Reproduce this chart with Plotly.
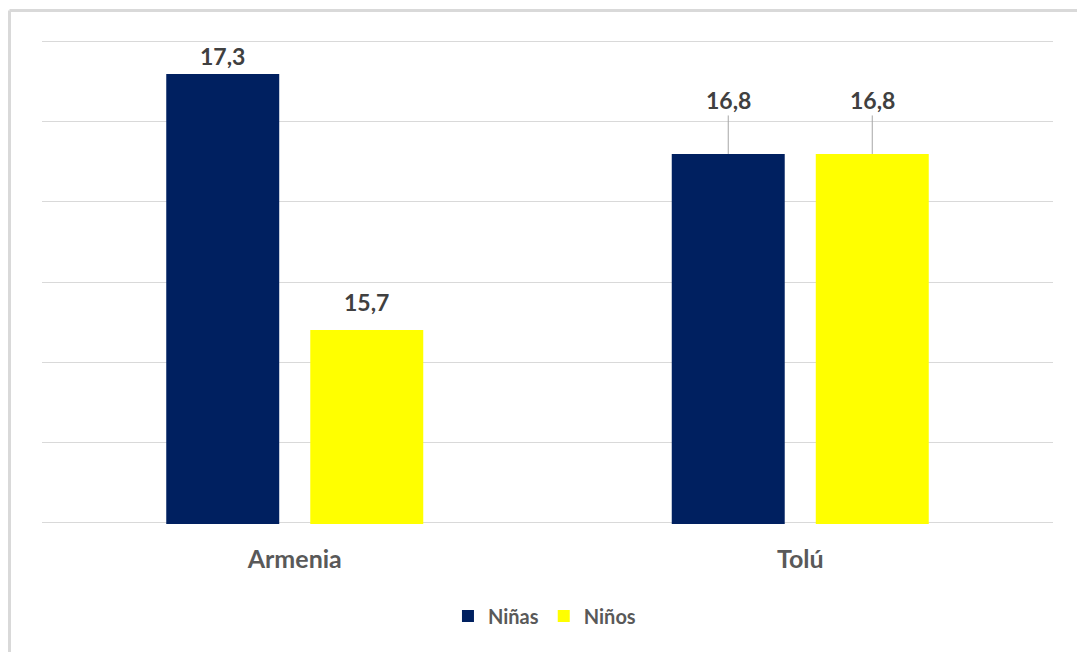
import plotly.graph_objects as go

# ---- data ----
categories = ["Armenia", "Tolú"]
ninas = [17.3, 16.8]
ninos = [15.7, 16.8]
series_names = ["Niñas", "Niños"]

# ---- styles ----
colors = ["#002060", "#FFFF00"]
bar_width = 0.2235
bar_offsets = [-0.2542, 0.0307]
# per-series, per-category label lift in px and whether a leader line is used
label_lift = [[18, 54], [28, 54]]
leader = [[False, True], [False, True]]
FONT = "Lato, 'Open Sans', Arial, sans-serif"

fig = go.Figure()
series_vals = [ninas, ninos]
for s, (name, vals) in enumerate(zip(series_names, series_vals)):
    fig.add_trace(go.Bar(
        x=categories, y=vals, name=name,
        marker=dict(color=colors[s], line=dict(width=0)),
        width=bar_width, offset=bar_offsets[s],
        hoverinfo="skip",
    ))

annotations = []
for s, vals in enumerate(series_vals):
    for i, v in enumerate(vals):
        xc = i + bar_offsets[s] + bar_width / 2
        txt = f"{v:.1f}".replace(".", ",")
        if leader[s][i]:
            annotations.append(dict(
                x=xc, y=v, xref="x", yref="y", text=txt,
                showarrow=True, arrowhead=0, arrowwidth=1, arrowcolor="#a6a6a6",
                ax=0, ay=-label_lift[s][i], standoff=0,
                font=dict(family=FONT, size=23, color="#404040", weight="bold"),
            ))
        else:
            annotations.append(dict(
                x=xc, y=v, xref="x", yref="y", text=txt, showarrow=False,
                yanchor="middle", yshift=label_lift[s][i],
                font=dict(family=FONT, size=23, color="#404040", weight="bold"),
            ))

# outer chart border (partially visible, as in the cropped reference)
W, H = 1077, 652
ml, mr, mt, mb = 42, 24, 40, 128
pw, ph = W - ml - mr, H - mt - mb
bx = (9.5 - ml) / pw
by = 1 + (mt - 10.5) / ph
shapes = [
    dict(type="line", xref="paper", yref="paper", x0=bx, x1=bx, y0=-0.4, y1=by,
         line=dict(color="#d9d9d9", width=3), layer="below"),
    dict(type="line", xref="paper", yref="paper", x0=bx, x1=1.1, y0=by, y1=by,
         line=dict(color="#d9d9d9", width=3), layer="below"),
]

fig.update_layout(
    width=W, height=H,
    margin=dict(l=ml, r=mr, t=mt, b=mb),
    paper_bgcolor="white", plot_bgcolor="white",
    barmode="overlay",
    showlegend=True,
    legend=dict(orientation="h", x=0.497, xanchor="center", y=-0.19, yanchor="middle",
                font=dict(family=FONT, size=20, color="#595959", weight="bold"),
                itemclick=False),
    annotations=annotations,
    shapes=shapes,
    font=dict(family=FONT),
)
fig.update_xaxes(
    type="category", showgrid=False, showline=False, zeroline=False,
    ticks="", ticklabelstandoff=18,
    tickfont=dict(family=FONT, size=25, color="#595959", weight="bold"),
)
fig.update_yaxes(
    range=[14.488, 17.512], dtick=0.5, tick0=14.5, showticklabels=False,
    showgrid=True, gridcolor="#d9d9d9", gridwidth=1, zeroline=False, showline=False,
)

fig.write_html("out.html")
